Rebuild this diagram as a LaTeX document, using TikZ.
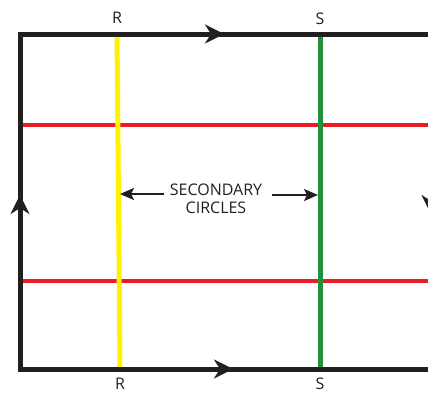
\documentclass[tikz,border=0pt]{standalone}
\usepackage{fontspec}
\setmainfont{Open Sans}
\usetikzlibrary{arrows.meta}
\definecolor{blk}{HTML}{231F20}
\definecolor{redl}{HTML}{ED1C24}
\definecolor{yell}{HTML}{FFF200}
\definecolor{grn}{HTML}{21913A}
\tikzset{
  frame/.style={draw=blk,line width=5pt},
  circ/.style={line width=5pt},
  flow/.style={draw=blk,line width=5pt,-{Stealth[length=19pt,width=19pt,inset=6pt]}},
  lbl/.style={font=\fontsize{16}{18.5}\selectfont,text=blk,inner sep=0pt},
  pointer/.style={draw=blk,line width=2.2pt,-{Stealth[length=14pt,width=12pt,inset=3pt]}}
}
\begin{document}
\begin{tikzpicture}[x=1pt,y=-1pt]
\useasboundingbox (0,0) rectangle (428,394);
\begin{scope}
\clip (0,0) rectangle (428,394);
% red secondary circles
\draw[circ,draw=redl,line width=4.5pt] (22,125) -- (440,125);
\draw[circ,draw=redl,line width=4.5pt] (22,281) -- (440,281);
% yellow and green
\draw[circ,draw=yell] (117,34) -- (120,367);
\draw[circ,draw=grn] (320,34) -- (320,367);
% frame
\draw[frame] (20,369) -- (20,34) -- (431,34) -- (431,369) -- cycle;
% arrows on frame
\coordinate (ta) at (190,34); \coordinate (tb) at (224,34);
\draw[flow] (ta) -- (tb);
\coordinate (ba) at (200,369); \coordinate (bb) at (233,369);
\draw[flow] (ba) -- (bb);
\coordinate (la) at (20,230); \coordinate (lb) at (20,195);
\draw[flow] (la) -- (lb);
\coordinate (ra) at (431,180); \coordinate (rb) at (431,214);
\draw[flow] (ra) -- (rb);
\end{scope}
% labels
\node[lbl] (rtop) at (117,18) {R};
\node[lbl] (stop) at (320,19) {S};
\node[lbl] (rbot) at (120,384) {R};
\node[lbl] (sbot) at (320,384) {S};
\node[lbl,align=center] (sec) at (216,199) {SECONDARY\\CIRCLES};
\coordinate (yl) at (120,194);
\coordinate (gl) at (318,195);
\coordinate (sl) at (164,194);
\coordinate (sr) at (272,195);
\draw[pointer] (sl) -- (yl);
\draw[pointer] (sr) -- (gl);
\end{tikzpicture}
\end{document}
